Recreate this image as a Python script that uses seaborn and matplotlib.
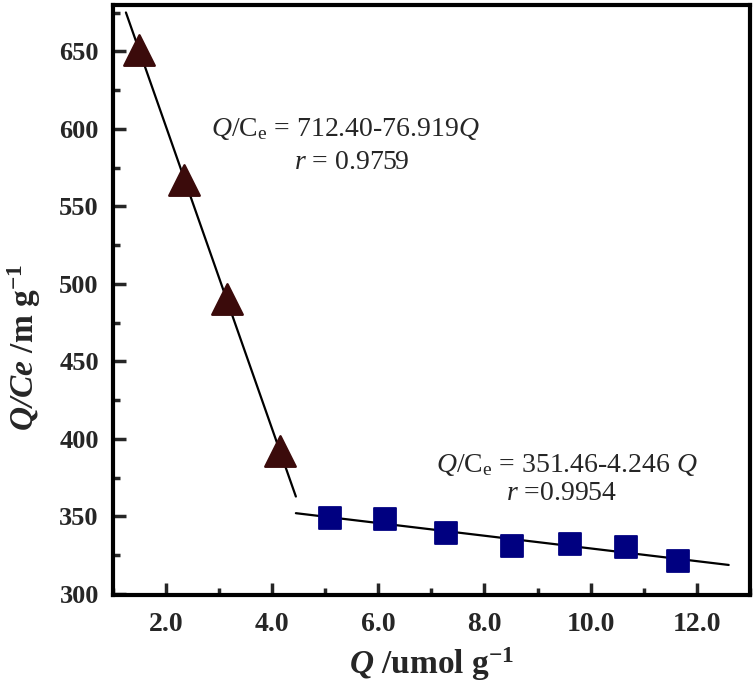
import numpy as np
import pandas as pd
import seaborn as sns
import matplotlib.pyplot as plt
from matplotlib.ticker import MultipleLocator

# data
tri_q = [1.5, 2.35, 3.15, 4.15]
tri_qce = [651, 567, 490, 392]
sq_q = [5.1, 6.12, 7.28, 8.52, 9.62, 10.66, 11.64]
sq_qce = [349, 348, 339, 331, 332, 330, 321]
fit1_range = [1.25, 4.45]
fit2_range = [4.45, 12.6]
x_ticks = [2, 4, 6, 8, 10, 12]
x_ticklabels = ['2.0', '4.0', '6.0', '8.0', '10.0', '12.0']
eq1 = r'$\mathit{Q}$/C$_\mathrm{e}$ = 712.40-76.919$\mathit{Q}$'
r1 = r'$\mathit{r}$ = 0.9759'
eq2 = r'$\mathit{Q}$/C$_\mathrm{e}$ = 351.46-4.246 $\mathit{Q}$'
r2 = r'$\mathit{r}$ =0.9954'

sns.set_theme(style="white")
plt.rcParams['font.family'] = ['Liberation Serif', 'DejaVu Serif']
plt.rcParams['mathtext.fontset'] = 'custom'
plt.rcParams['mathtext.rm'] = 'Liberation Serif'
plt.rcParams['mathtext.it'] = 'Liberation Serif:italic'
plt.rcParams['mathtext.bf'] = 'Liberation Serif:bold'
plt.rcParams['mathtext.bfit'] = 'Liberation Serif:bold:italic'

tri = pd.DataFrame({'Q': tri_q, 'QCe': tri_qce})
sq = pd.DataFrame({'Q': sq_q, 'QCe': sq_qce})

fig = plt.figure(figsize=(7.56, 6.89), dpi=100)
ax = fig.add_axes([0.149, 0.136, 0.843, 0.857])

# fitted lines over the drawn range
for df, rng in [(tri, fit1_range), (sq, fit2_range)]:
    k, b = np.polyfit(df['Q'], df['QCe'], 1)
    xs = np.array(rng)
    ax.plot(xs, k * xs + b, color='black', lw=1.6, zorder=2)

sns.scatterplot(data=tri, x='Q', y='QCe', marker='^', s=480, color='#3b0b0b',
                edgecolor='#3b0b0b', ax=ax, zorder=3)
sns.scatterplot(data=sq, x='Q', y='QCe', marker='s', s=260, color='#000080',
                edgecolor='#000080', ax=ax, zorder=3)

ax.set_xlim(1.0, 13.0)
ax.set_ylim(299, 680)
ax.xaxis.set_minor_locator(MultipleLocator(1))
ax.yaxis.set_major_locator(MultipleLocator(50))
ax.yaxis.set_minor_locator(MultipleLocator(25))
ax.set_xticks(x_ticks)
ax.set_xticklabels(x_ticklabels)
ax.tick_params(which='major', direction='in', length=9, width=2.5,
               labelsize=19, pad=10)
ax.tick_params(axis='x', which='major', labelsize=20, pad=12)
ax.tick_params(which='minor', direction='in', length=5, width=2.5)
ax.tick_params(bottom=True, left=True, which='both')
for lab in ax.get_xticklabels() + ax.get_yticklabels():
    lab.set_fontweight('bold')
for sp in ax.spines.values():
    sp.set_linewidth(3)
    sp.set_color('black')

ax.set_xlabel(r'$\mathbfit{Q}$ /umol g$^{\mathbf{-1}}$', fontsize=24,
              fontweight='bold')
ax.set_ylabel(r'$\mathbfit{Q/Ce}$ /m g$^{\mathbf{-1}}$', fontsize=24,
              fontweight='bold')
ax.xaxis.set_label_coords(0.5, -0.085)
ax.yaxis.set_label_coords(-0.11, 0.42)

ax.text(2.85, 600, eq1, fontsize=20, ha='left', va='center')
ax.text(5.5, 578, r1, fontsize=20, ha='center', va='center')
ax.text(9.55, 383, eq2, fontsize=20, ha='center', va='center')
ax.text(9.45, 365, r2, fontsize=20, ha='center', va='center')

fig.savefig('out.png', dpi=100)
